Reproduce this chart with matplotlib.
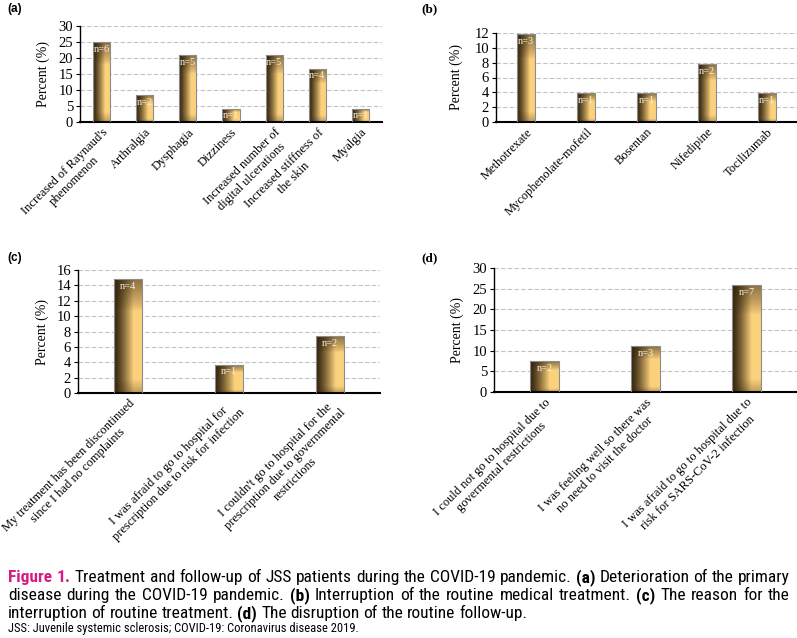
import numpy as np
import matplotlib
matplotlib.use('Agg')
import matplotlib.pyplot as plt
from matplotlib import font_manager

# ---- data ----
a_labels = ["Increased of Raynaud's\nphenomenon", "Arthralgia", "Dysphagia", "Dizziness",
            "Increased number of\ndigital ulcerations", "Increased stiffness of\nthe skin", "Myalgia"]
a_values = [25.0, 8.3, 20.8, 4.2, 20.8, 16.7, 4.2]
a_n = [6, 2, 5, 1, 5, 4, 1]

b_labels = ["Methotrexate", "Mycophenolate-mofetil", "Bosentan", "Nifedipine", "Tocilizumab"]
b_values = [11.8, 3.9, 3.9, 7.8, 3.9]
b_n = [3, 1, 1, 2, 1]

c_labels = ["My treatment has been discontinued\nsince I had no complaints",
            "I was afraid to go to hospital for\nprescription due to risk for infection",
            "I couldn't go to hospital for the\nprescription due to governmental\nrestrictions"]
c_values = [14.8, 3.7, 7.4]
c_n = [4, 1, 2]

d_labels = ["I could not go to hospital due to\ngovermental restrictions",
            "I was feeling well so there was\nno need to visit the doctor",
            "I was afraid to go to hospital due to\nrisk for SARS-CoV-2 infection"]
d_values = [7.4, 11.1, 25.9]
d_n = [2, 3, 7]

caption = [
    [("Figure 1.", True, '#d81b84'),
     ("Treatment and follow-up of JSS patients during the COVID-19 pandemic.", False, 'black'),
     ("(a)", True, 'black'), ("Deterioration of the primary", False, 'black')],
    [("disease during the COVID-19 pandemic.", False, 'black'), ("(b)", True, 'black'),
     ("Interruption of the routine medical treatment.", False, 'black'), ("(c)", True, 'black'),
     ("The reason for the", False, 'black')],
    [("interruption of routine treatment.", False, 'black'), ("(d)", True, 'black'),
     ("The disruption of the routine follow-up.", False, 'black')],
]
footnote = "JSS: Juvenile systemic sclerosis; COVID-19: Coronavirus disease 2019."

W, H = 797, 638
fig = plt.figure(figsize=(W / 100, H / 100), dpi=100)

# pick a narrow sans for the caption if one is installed
fonts = font_manager.fontManager.ttflist
cap_font, cap_stretch = 'Roboto', 'normal'
for f in fonts:
    if f.name in ('Liberation Sans Narrow', 'Roboto Condensed', 'Open Sans Condensed'):
        cap_font = f.name
        break
else:
    for f in fonts:
        if f.name == 'DejaVu Sans' and f.stretch in ('condensed', 'semi-condensed'):
            cap_font, cap_stretch = 'DejaVu Sans', 'condensed'
            break
serif = 'Liberation Serif'

# bar shading: dark on the left, light on the right, darker top
dark = np.array([0.20, 0.14, 0.05])
light = np.array([0.99, 0.82, 0.49])
xs = np.linspace(0, 1, 64)
ys = np.linspace(0, 1, 128)
fx = np.clip(xs / 0.68, 0, 1) ** 1.25
gy = 1 - 0.55 * np.clip((ys - 0.72) / 0.28, 0, 1) ** 0.8 - 0.3 * np.clip((0.12 - ys) / 0.12, 0, 1)
grad = dark + (light - dark) * np.outer(gy, fx)[..., None]


def px_axes(l, t, r, b):
    return fig.add_axes([l / W, 1 - b / H, (r - l) / W, (b - t) / H])


def panel(ax, labels, values, counts, ymax, step, width, lab_x):
    x = np.arange(len(values))
    bars = ax.bar(x, values, width=width, color='none', edgecolor='#8c8c8c', linewidth=0.8, zorder=3)
    for rect in bars:
        x0, y0 = rect.get_x(), rect.get_y()
        im = ax.imshow(grad, extent=(x0, x0 + rect.get_width(), y0, y0 + rect.get_height()),
                       origin='lower', aspect='auto', zorder=2.5, interpolation='bilinear')
        im.set_clip_path(rect)
    for xi, v, n in zip(x, values, counts):
        ax.annotate('n=%d' % n, xy=(xi, v), xytext=(0, -2), textcoords='offset points',
                    ha='center', va='top', fontsize=7.5, color='#f6efe2', family=serif, zorder=4)
    ax.set_xlim(-0.5, len(values) - 0.5)
    ax.set_ylim(0, ymax)
    ax.set_yticks(np.arange(0, ymax + step / 2, step))
    ax.set_xticks(x)
    ax.set_xticklabels(labels, rotation=45, ha='right', va='top', rotation_mode='anchor',
                       family=serif, fontsize=9, multialignment='center')
    ax.tick_params(axis='x', length=0, pad=3)
    ax.tick_params(axis='y', length=3, width=0.8, pad=2, labelsize=10.5)
    for t in ax.get_yticklabels():
        t.set_family(serif)
    ax.yaxis.grid(True, linestyle=(0, (4, 2)), color='#c4c4c4', linewidth=0.8)
    ax.set_axisbelow(True)
    for s in ('top', 'right'):
        ax.spines[s].set_visible(False)
    ax.spines['left'].set_linewidth(1.0)
    ax.spines['bottom'].set_linewidth(1.5)
    ax.set_ylabel('Percent (%)', family=serif, fontsize=10)
    ax.yaxis.set_label_coords(lab_x, 0.5)


ax_a = px_axes(80, 26, 382, 122)
panel(ax_a, a_labels, a_values, a_n, 30, 5, 0.4, -0.10)
ax_b = px_axes(496, 33, 797, 122)
panel(ax_b, b_labels, b_values, b_n, 12, 2, 0.3, -0.11)
ax_c = px_axes(78, 270, 380, 393)
panel(ax_c, c_labels, c_values, c_n, 16, 2, 0.28, -0.095)
ax_d = px_axes(494, 268, 797, 392)
panel(ax_d, d_labels, d_values, d_n, 30, 5, 0.28, -0.10)

fig.text(7 / W, 1 - 3 / H, '(a)', family='Liberation Sans', weight='bold', fontsize=8.5, va='top')
fig.text(421 / W, 1 - 3 / H, '(b)', family=serif, weight='bold', fontsize=9.5, va='top')
fig.text(7 / W, 1 - 252 / H, '(c)', family='Liberation Sans', weight='bold', fontsize=8.5, va='top')
fig.text(421 / W, 1 - 252 / H, '(d)', family=serif, weight='bold', fontsize=9.5, va='top')

# caption, laid out word by word so lines 1-2 can be justified
renderer = fig.canvas.get_renderer()
LEFT, RIGHT = 8, 790


def make_words(runs, base_y, size):
    arts = []
    for text, bold, color in runs:
        for w in text.split():
            arts.append(fig.text(0, 1 - base_y / H, w, fontsize=size, family=cap_font,
                                 fontstretch=cap_stretch, weight='bold' if bold else 'normal',
                                 color=color, va='baseline'))
    return arts


def place(arts, justify, size):
    widths = [a.get_window_extent(renderer).width for a in arts]
    if justify:
        gap = (RIGHT - LEFT - sum(widths)) / (len(arts) - 1)
    else:
        gap = size * 0.3
    xpos = LEFT
    for a, w in zip(arts, widths):
        a.set_x(xpos / W)
        xpos += w + gap


# shrink the caption size until the longest line fits with normal spaces
size = 13.5
while True:
    trial = make_words(caption[0], 582, size)
    total = sum(a.get_window_extent(renderer).width for a in trial) + size * 0.3 * (len(trial) - 1)
    for a in trial:
        a.remove()
    if total <= RIGHT - LEFT or size < 7:
        break
    size -= 0.25

for runs, y, just in zip(caption, (582, 600, 618), (True, True, False)):
    place(make_words(runs, y, size), just, size)
fig.text(8 / W, 1 - 632 / H, footnote, fontsize=9, family=cap_font, fontstretch=cap_stretch,
         va='baseline')

fig.savefig('out.png', dpi=100)
